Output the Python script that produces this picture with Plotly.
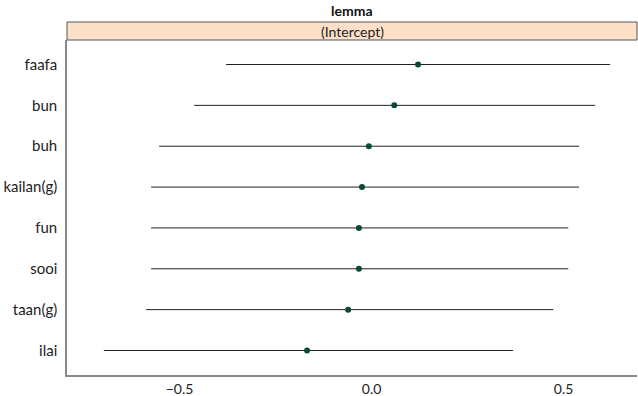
import plotly.graph_objects as go

terms = ["ilai", "taan(g)", "sooi", "fun", "kailan(g)", "buh", "bun", "faafa"]
estimate = [-0.168, -0.061, -0.033, -0.033, -0.025, -0.007, 0.059, 0.121]
lower = [-0.697, -0.587, -0.574, -0.574, -0.574, -0.553, -0.462, -0.379]
upper = [0.368, 0.473, 0.512, 0.512, 0.540, 0.540, 0.582, 0.621]
tick_vals = [-0.5, 0.0, 0.5]
tick_text = ["\u22120.5", "0.0", "0.5"]

W, H = 638, 396
ml, mr, mt, mb = 67, 1, 40, 21
ph = H - mt - mb

font = "Lato, 'Open Sans', sans-serif"

fig = go.Figure()
for t, lo, hi in zip(terms, lower, upper):
    fig.add_trace(go.Scatter(x=[lo, hi], y=[t, t], mode="lines",
                             line=dict(color="#222222", width=1),
                             showlegend=False, hoverinfo="skip"))
fig.add_trace(go.Scatter(x=estimate, y=terms, mode="markers",
                         marker=dict(color="#0b4a32", size=6),
                         showlegend=False))

strip_h = 18 / ph
fig.add_shape(type="rect", xref="paper", yref="paper", x0=0, x1=1,
              y0=1, y1=1 + strip_h, fillcolor="#fde0c8",
              line=dict(color="#555555", width=1))
fig.add_annotation(text="(Intercept)", xref="paper", yref="paper",
                   x=0.5, y=1 + strip_h / 2, showarrow=False,
                   font=dict(family=font, size=14, color="#222222"),
                   yanchor="middle")
fig.add_annotation(text="<b>lemma</b>", xref="paper", yref="paper",
                   x=0.5, y=1 + (mt - 11) / ph, showarrow=False,
                   font=dict(family=font, size=14, color="#111111"),
                   yanchor="middle")

fig.update_layout(
    width=W, height=H,
    margin=dict(l=ml, r=mr, t=mt, b=mb),
    paper_bgcolor="white", plot_bgcolor="white",
    font=dict(family=font, size=13, color="#222222"),
)
fig.update_xaxes(range=[-0.793, 0.691], tickvals=tick_vals, ticktext=tick_text,
                 showgrid=False, zeroline=False, showline=True,
                 linecolor="#888888", linewidth=1.5, ticks="",
                 tickfont=dict(size=14), automargin=False)
fig.update_yaxes(categoryorder="array", categoryarray=terms,
                 range=[-0.6, 7.6], showgrid=False, zeroline=False,
                 showline=True, linecolor="#888888", linewidth=1.5,
                 ticks="", tickfont=dict(size=15), automargin=False,
                 ticklabelstandoff=5)

fig.write_html("out.html")
